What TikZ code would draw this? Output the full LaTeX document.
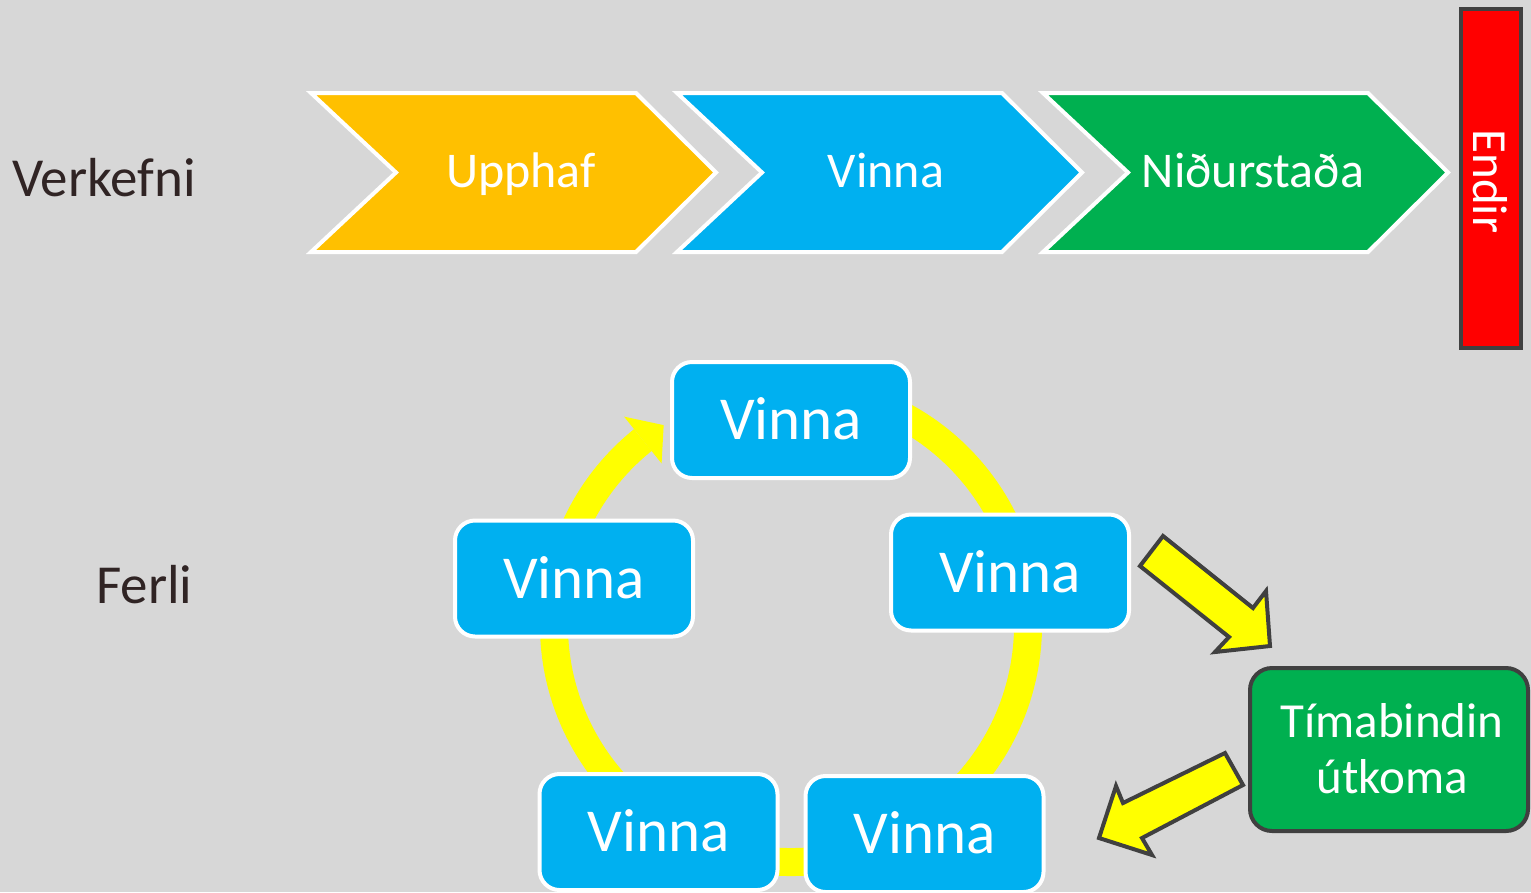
\documentclass[tikz,border=0pt]{standalone}
\usepackage{fontspec}
\setmainfont{Carlito}
\usetikzlibrary{calc}
\definecolor{bg}{RGB}{215,215,215}
\definecolor{saorange}{HTML}{FFC000}
\definecolor{sablue}{HTML}{00B0F0}
\definecolor{sagreen}{HTML}{00B050}
\definecolor{sared}{HTML}{FF0000}
\definecolor{ringyellow}{HTML}{FFFF00}
\definecolor{dkborder}{HTML}{404040}
\definecolor{labeltext}{RGB}{48,36,36}
\begin{document}
\begin{tikzpicture}[x=1pt,y=-1pt,
  chev/.style={draw=white, line width=4pt, line join=miter},
  ctext/.style={anchor=base, text=white, inner sep=0pt, font=\fontsize{50}{50}\selectfont},
  sidelabel/.style={anchor=base west, text=labeltext, inner sep=0pt, font=\fontsize{55}{55}\selectfont},
  vbox/.style={rectangle, rounded corners=20pt, fill=sablue, draw=white, line width=4pt,
    minimum width=238pt, minimum height=116pt, inner sep=0pt, text=white,
    font=\fontsize{61}{61}\selectfont, text height=39pt, text depth=0pt},
  ring/.style={draw=ringyellow, line width=28pt},
  barrow/.style={fill=ringyellow, draw=dkborder, line width=4pt, line join=miter},
  endbox/.style={rectangle, fill=sared, draw=dkborder, line width=4pt,
    minimum width=60pt, minimum height=339pt, inner sep=0pt},
  gbox/.style={rectangle, rounded corners=22pt, fill=sagreen, draw=dkborder, line width=4pt,
    minimum width=278pt, minimum height=163pt, inner sep=0pt},
  wtext/.style={text=white, inner sep=0pt, font=\fontsize{49}{49}\selectfont}
]
\useasboundingbox (0,0) rectangle (1531,892);
\fill[bg] (0,0) rectangle (1531,892);

% side labels
\node[sidelabel] (verkefni) at (12,196) {Verkefni};
\node[sidelabel] (ferli) at (96,603) {Ferli};

% chevrons
\path[chev, fill=saorange] (311,93) -- (636,93) -- (716,172.5) -- (636,252) -- (311,252) -- (396,172.5) -- cycle;
\path[chev, fill=sablue] (677,93) -- (1002,93) -- (1082,172.5) -- (1002,252) -- (677,252) -- (762,172.5) -- cycle;
\path[chev, fill=sagreen] (1043,93) -- (1368,93) -- (1448,172.5) -- (1368,252) -- (1043,252) -- (1128,172.5) -- cycle;
\node[ctext] (c1) at (521,187) {Upphaf};
\node[ctext] (c2) at (886,187) {Vinna};
\node[ctext] (c3) at (1253,187) {Niðurstaða};

% end bar
\node[endbox] (endir) at (1491,178.5) {};
\node[wtext, rotate=-90, text height=32pt, text depth=0pt] (endirt) at (1489,181.5) {Endir};

% cycle ring
\coordinate (rc) at (791,625);
\draw[ring] ($(rc)+(-80:237)$) arc[start angle=-80, end angle=231.3, radius=237];
\fill[ringyellow] ($(rc)+(231.3:267)$) -- ($(rc)+(231.3:207)$) -- ($(rc)+(237.5:237)$) -- cycle;

% cycle nodes
\node[vbox] (v1) at (791,420) {Vinna};
\node[vbox] (v2) at (1010,572.5) {Vinna};
\node[vbox] (v3) at (924.5,834) {Vinna};
\node[vbox] (v4) at (658.5,832) {Vinna};
\node[vbox] (v5) at (574,578.5) {Vinna};

% outcome box
\node[gbox] (tb) at (1389,749.5) {};
\node[wtext, anchor=base] (tb1) at (1392,737) {Tímabindin};
\node[wtext, anchor=base] (tb2) at (1392,793) {útkoma};

% block arrows
\path[barrow] (1163,536) -- (1253,608) -- (1266,591) -- (1270,646) -- (1215,652) -- (1229,637) -- (1140,566) -- cycle;
\path[barrow] (1225,753) -- (1243,785) -- (1142,838) -- (1152,855) -- (1099,838) -- (1116,786) -- (1123,803) -- cycle;
\end{tikzpicture}
\end{document}
